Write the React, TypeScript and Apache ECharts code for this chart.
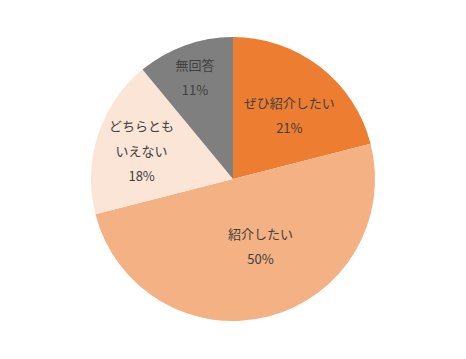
import React, { useEffect, useRef } from "react";
import * as echarts from "echarts";

const categories = ["ぜひ紹介したい", "紹介したい", "どちらとも\nいえない", "無回答"];
const values = [21, 50, 18, 11];
const colors = ["#ED7D31", "#F4B183", "#FBE5D6", "#7F7F7F"];
const labelShift = [
  [11, -6],
  [9, -5],
  [-21, -6],
  [-13, -32],
];

export default function App() {
  const ref = useRef<HTMLDivElement>(null);
  useEffect(() => {
    if (!ref.current) return;
    const chart = echarts.init(ref.current, undefined, { renderer: "svg" });
    chart.setOption({
      animation: false,
      backgroundColor: "#ffffff",
      series: [
        {
          type: "pie",
          center: [233, 179],
          radius: [0, 142],
          startAngle: 90,
          clockwise: true,
          data: categories.map((name, i) => ({
            name,
            value: values[i],
            itemStyle: { color: colors[i] },
          })),
          itemStyle: { borderWidth: 0 },
          label: {
            show: true,
            position: "inside",
            formatter: "{b}\n{c}%",
            color: "#404040",
            fontSize: 13,
            lineHeight: 25,
            fontFamily: "'Noto Sans CJK JP', 'Noto Sans', sans-serif",
            align: "center",
          },
          labelLine: { show: false },
          labelLayout: (p: any) => ({
            dx: labelShift[p.dataIndex][0],
            dy: labelShift[p.dataIndex][1],
          }),
          emphasis: { disabled: true },
        },
      ],
    });
    return () => chart.dispose();
  }, []);
  return (
    <div
      ref={ref}
      style={{ position: "fixed", left: 0, top: 0, width: 466, height: 359 }}
    />
  );
}
